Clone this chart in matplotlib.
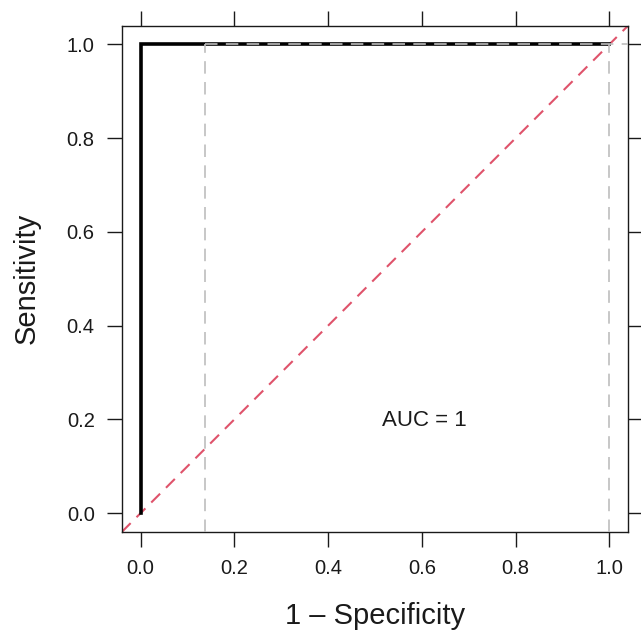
import matplotlib
matplotlib.use('Agg')
import matplotlib.pyplot as plt

# ROC curve data
fpr = [0.0, 0.0, 1.0]
tpr = [0.0, 1.0, 1.0]
# grey reference lines (cutoff points)
cut_fpr = [0.138, 1.0]
cut_tpr = 1.0
auc_text = 'AUC = 1'
ticks = [0.0, 0.2, 0.4, 0.6, 0.8, 1.0]
tick_labels = ['0.0', '0.2', '0.4', '0.6', '0.8', '1.0']

plt.rcParams['font.family'] = ['Liberation Sans', 'DejaVu Sans']
plt.rcParams['lines.scale_dashes'] = False

fig = plt.figure(figsize=(6.41, 6.33), dpi=100)
ax = fig.add_axes([0.190, 0.1596, 0.790, 0.8000])

lo, hi = -0.04, 1.04
ax.set_xlim(lo, hi)
ax.set_ylim(lo, hi)

# chance diagonal
ax.plot([lo, hi], [lo, hi], color='#DF536B', lw=1.5, dashes=(9, 6), zorder=2)
# roc curve
ax.plot(fpr, tpr, color='black', lw=2.6, solid_joinstyle='miter', zorder=3)
# grey dashed lines
for x in cut_fpr:
    ax.plot([x, x], [lo, cut_tpr], color='#BEBEBE', lw=1.2, dashes=(9, 6), zorder=4)
ax.plot([cut_fpr[0], hi], [cut_tpr, cut_tpr], color='#BEBEBE', lw=1.2, dashes=(9, 6), zorder=4)

ax.text(0.606, 0.198, auc_text, fontsize=16, ha='center', va='center', color='#1a1a1a')

ax.set_xticks(ticks)
ax.set_xticklabels(tick_labels)
ax.set_yticks(ticks)
ax.set_yticklabels(tick_labels)
ax.tick_params(direction='out', length=10.5, width=1.0, labelsize=14.5, pad=9,
               colors='#1a1a1a', top=True, right=True)
for s in ax.spines.values():
    s.set_linewidth(1.0)
    s.set_color('#1a1a1a')

ax.set_xlabel('1 \u2013 Specificity', fontsize=21, labelpad=17, color='#1a1a1a')
ax.set_ylabel('Sensitivity', fontsize=21, labelpad=19, color='#1a1a1a')

fig.savefig('out.png', dpi=100)
